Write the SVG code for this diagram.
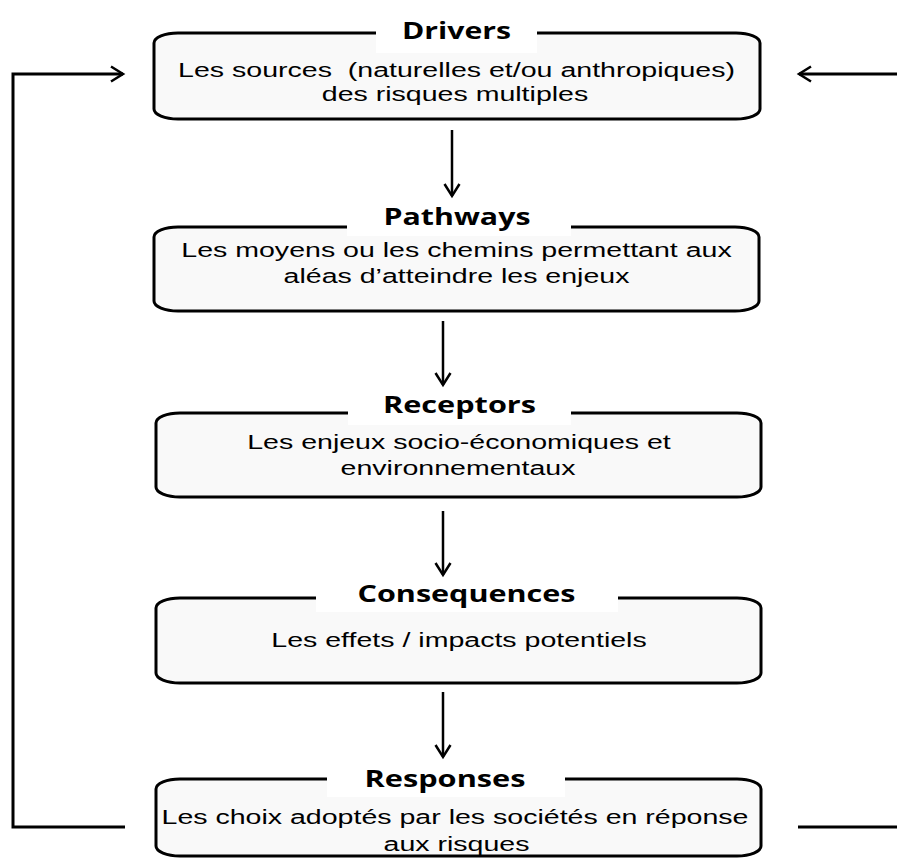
<svg xmlns="http://www.w3.org/2000/svg" width="897" height="860" viewBox="0 0 897 860">
  <style>
    .box { fill: #f9f9f9; stroke: #000; stroke-width: 3; }
    .gap { fill: #fff; stroke: none; }
    .title { font-family: "Open Sans", "Liberation Sans", sans-serif; font-weight: 700; font-size: 24px; fill: #000; text-anchor: middle; }
    .body { font-family: "Liberation Sans", Arial, sans-serif; font-size: 21px; fill: #000; text-anchor: middle; white-space: pre; }
    .link { fill: none; stroke: #000; stroke-width: 2.5; }
    .loop { fill: none; stroke: #000; stroke-width: 3; }
  </style>
  <defs>
    <marker id="chevron" markerUnits="userSpaceOnUse" markerWidth="16" markerHeight="18" refX="13" refY="9" orient="auto">
      <path d="M1,1.5 L13,9 L1,16.5" fill="none" stroke="#000" stroke-width="2.5" stroke-linejoin="miter"/>
    </marker>
  </defs>
  <rect width="897" height="860" fill="#fff"/>

  <!-- Drivers -->
  <g id="drivers">
    <rect class="box" x="154" y="33" width="606" height="86" rx="24" ry="10"/>
    <rect class="gap" x="376" y="18" width="161" height="35"/>
    <text class="title" x="456.5" y="39" textLength="109" lengthAdjust="spacingAndGlyphs">Drivers</text>
    <text class="body" transform="translate(456.5 77) scale(1.36 1)">Les sources  (naturelles et/ou anthropiques)</text>
    <text class="body" transform="translate(455 101) scale(1.36 1)">des risques multiples</text>
  </g>

  <!-- Pathways -->
  <g id="pathways">
    <rect class="box" x="154" y="227" width="605" height="84" rx="24" ry="10"/>
    <rect class="gap" x="347" y="203" width="224" height="33"/>
    <text class="title" x="457" y="225" textLength="147" lengthAdjust="spacingAndGlyphs">Pathways</text>
    <text class="body" transform="translate(456.5 257) scale(1.36 1)">Les moyens ou les chemins permettant aux</text>
    <text class="body" transform="translate(456.5 283) scale(1.36 1)">aléas d’atteindre les enjeux</text>
  </g>

  <!-- Receptors -->
  <g id="receptors">
    <rect class="box" x="156" y="413" width="605" height="84" rx="24" ry="10"/>
    <rect class="gap" x="348" y="391" width="223" height="34"/>
    <text class="title" x="459.5" y="413" textLength="153" lengthAdjust="spacingAndGlyphs">Receptors</text>
    <text class="body" transform="translate(459 449) scale(1.36 1)">Les enjeux socio-économiques et</text>
    <text class="body" transform="translate(458 475) scale(1.36 1)">environnementaux</text>
  </g>

  <!-- Consequences -->
  <g id="consequences">
    <rect class="box" x="156" y="598" width="605" height="85" rx="24" ry="10"/>
    <rect class="gap" x="316" y="578" width="302" height="34"/>
    <text class="title" x="466.5" y="602" textLength="218" lengthAdjust="spacingAndGlyphs">Consequences</text>
    <text class="body" transform="translate(459 647) scale(1.36 1)">Les effets / impacts potentiels</text>
  </g>

  <!-- Responses -->
  <g id="responses">
    <rect class="box" x="156" y="779" width="605" height="77" rx="24" ry="10"/>
    <rect class="gap" x="327" y="765" width="238" height="32"/>
    <text class="title" x="445" y="787" textLength="161" lengthAdjust="spacingAndGlyphs">Responses</text>
    <text class="body" transform="translate(455 824) scale(1.36 1)">Les choix adoptés par les sociétés en réponse</text>
    <text class="body" transform="translate(456.5 851) scale(1.36 1)">aux risques</text>
  </g>

  <!-- Connectors -->
  <g id="connectors">
    <line class="link" x1="452" y1="130" x2="452" y2="196" marker-end="url(#chevron)"/>
    <line class="link" x1="443" y1="321" x2="443" y2="385" marker-end="url(#chevron)"/>
    <line class="link" x1="443" y1="511" x2="443" y2="575" marker-end="url(#chevron)"/>
    <line class="link" x1="443" y1="692" x2="443" y2="757" marker-end="url(#chevron)"/>
    <path class="loop" d="M125,827 H13 V74 H123" marker-end="url(#chevron)"/>
    <path class="loop" d="M897,74 H799" marker-end="url(#chevron)"/>
    <line class="loop" x1="798" y1="827" x2="897" y2="827"/>
  </g>
</svg>
